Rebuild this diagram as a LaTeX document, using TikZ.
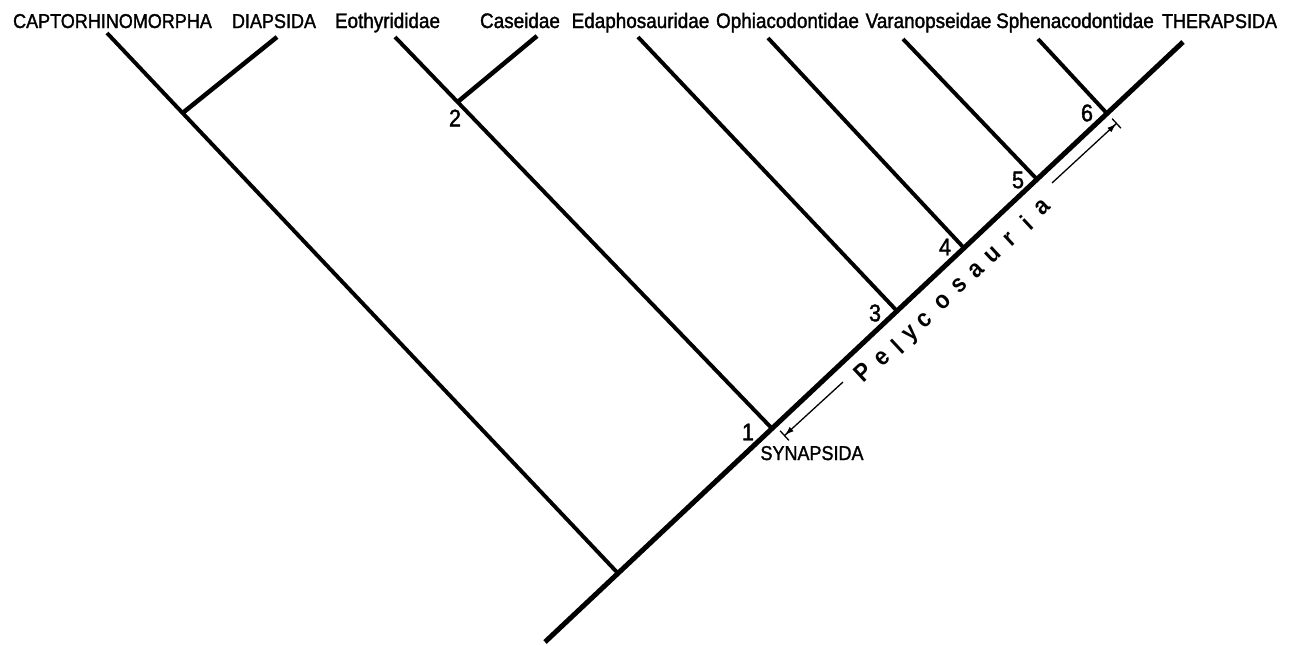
\documentclass[tikz,border=0pt]{standalone}
\usepackage{fontspec}
\setmainfont{Liberation Sans}
\newfontfamily\labfont{Liberation Sans}[FakeStretch=0.9,FakeBold=1.5]
\newfontfamily\pelyfont{Liberation Sans}[FakeStretch=0.9]
\usetikzlibrary{arrows.meta}
\begin{document}
\begin{tikzpicture}[x=1pt,y=-1pt,
  trunkline/.style={line width=5pt},
  sidebranch/.style={line width=3.9pt},
  forkbranch/.style={line width=4.5pt},
  taxonlow/.style={anchor=base,inner sep=0pt,font=\labfont\fontsize{21}{24}\selectfont},
  taxoncap/.style={anchor=base,inner sep=0pt,font=\labfont\fontsize{20}{24}\selectfont},
  nodenum/.style={inner sep=0pt,font=\labfont\fontsize{24}{26}\selectfont},
  pelyletter/.style={inner sep=0pt,rotate=43,font=\pelyfont\fontsize{25}{28}\selectfont\bfseries},
  extent/.style={line width=1.3pt,-{Latex[length=9pt,width=6pt]Bar[width=13pt,line width=1.3pt]}}
]
\fill[white] (0,0) rectangle (1289,645);

% branching points on the main stem
\coordinate (base) at (545,642);
\coordinate (root) at (618,573.3);
\coordinate (n1) at (772,428.5);
\coordinate (n3) at (897,311);
\coordinate (n4) at (964,248);
\coordinate (n5) at (1037,179.3);
\coordinate (n6) at (1107,113.5);
\coordinate (tTher) at (1183,42);
% side branching points
\coordinate (nc) at (182.6,113);
\coordinate (n2) at (457.6,102);
% branch tips under the labels
\coordinate (tCapt) at (107,33);
\coordinate (tDiap) at (277,37);
\coordinate (tEoth) at (395,37);
\coordinate (tCase) at (537,36);
\coordinate (tEdap) at (638,37);
\coordinate (tOphi) at (768,38);
\coordinate (tVara) at (903,39);
\coordinate (tSphe) at (1038,39);

% terminal taxa
\node[taxoncap] (lCapt) at (112.5,28) {CAPTORHINOMORPHA};
\node[taxoncap] (lDiap) at (274,28) {DIAPSIDA};
\node[taxonlow] (lEoth) at (387.5,28) {Eothyrididae};
\node[taxonlow] (lCase) at (520,28) {Caseidae};
\node[taxonlow] (lEdap) at (640.5,28) {Edaphosauridae};
\node[taxonlow] (lOphi) at (787.5,28) {Ophiacodontidae};
\node[taxonlow] (lVara) at (928.5,28) {Varanopseidae};
\node[taxonlow] (lSphe) at (1075,28) {Sphenacodontidae};
\node[taxoncap] (lTher) at (1219.5,28) {THERAPSIDA};
\node[taxoncap] (lSyn) at (812,460) {SYNAPSIDA};

% main stem
\draw[trunkline] (base) -- (root) -- (n1) -- (n3) -- (n4) -- (n5) -- (n6) -- (tTher);

% branches
\draw[sidebranch] (root) -- (nc) -- (tCapt);
\draw[forkbranch] (nc) -- (tDiap);
\draw[sidebranch] (n1) -- (n2) -- (tEoth);
\draw[forkbranch] (n2) -- (tCase);
\draw[sidebranch] (n3) -- (tEdap);
\draw[sidebranch] (n4) -- (tOphi);
\draw[sidebranch] (n5) -- (tVara);
\draw[sidebranch] (n6) -- (tSphe);

% node numbers
\node[nodenum] (k1) at (748,432) {1};
\node[nodenum] (k2) at (455,118) {2};
\node[nodenum] (k3) at (875,313) {3};
\node[nodenum] (k4) at (945,247) {4};
\node[nodenum] (k5) at (1018,180) {5};
\node[nodenum] (k6) at (1087,113) {6};

% Pelycosauria, letter-spaced along the stem
\node[pelyletter] (p1) at (863,372) {P};
\node[pelyletter] (p2) at (883,358) {e};
\node[pelyletter] (p3) at (898,347) {l};
\node[pelyletter] (p4) at (912,335) {y};
\node[pelyletter] (p5) at (925,320) {c};
\node[pelyletter] (p6) at (943,302) {o};
\node[pelyletter] (p7) at (960,285) {s};
\node[pelyletter] (p8) at (977,270) {a};
\node[pelyletter] (p9) at (993,255) {u};
\node[pelyletter] (p10) at (1010,240) {r};
\node[pelyletter] (p11) at (1027,223) {i};
\node[pelyletter] (p12) at (1043,207) {a};

% extent of the grade
\coordinate (loStart) at (843,382);
\coordinate (loEnd) at (784,436);
\coordinate (hiStart) at (1052,183);
\coordinate (hiEnd) at (1117,123);
\draw[extent] (loStart) -- (loEnd);
\draw[extent] (hiStart) -- (hiEnd);
\end{tikzpicture}
\end{document}
